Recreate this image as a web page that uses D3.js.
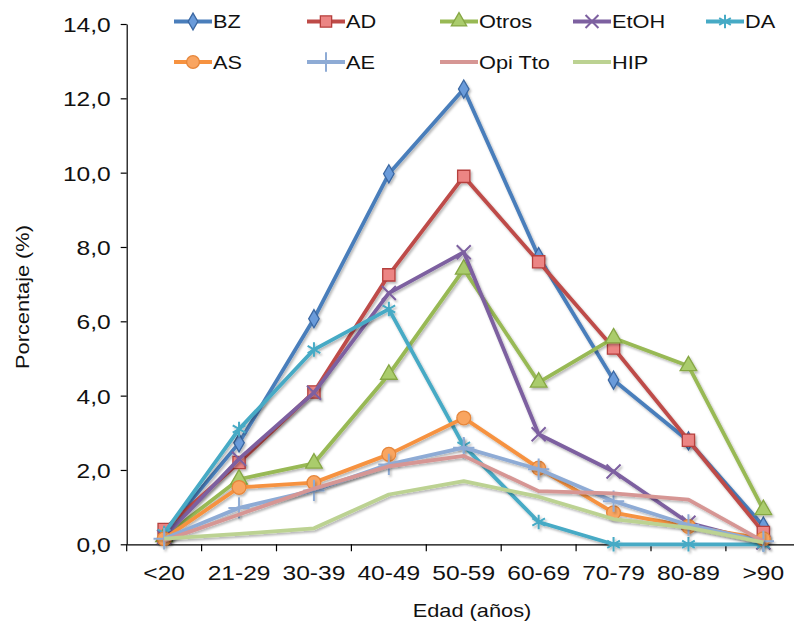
<!DOCTYPE html>
<html><head><meta charset="utf-8">
<script src="https://cdn.jsdelivr.net/npm/d3@7"></script>
<style>body{margin:0;background:#fff}svg{display:block}text{font-family:"Liberation Sans",Arial,sans-serif;fill:#111}</style>
</head><body><svg id="c" width="794" height="627"></svg>
<script>
const categories = ["<20","21-29","30-39","40-49","50-59","60-69","70-79","80-89",">90"];
const BZ    = [0.30, 2.73, 6.07, 9.97, 12.25, 7.74, 4.42, 2.78, 0.49];
const AD    = [0.40, 2.20, 4.10, 7.25, 9.90, 7.60, 5.28, 2.80, 0.32];
const Otros = [0.20, 1.75, 2.18, 4.57, 7.40, 4.36, 5.55, 4.80, 0.93];
const EtOH  = [0.20, 2.30, 4.08, 6.76, 7.86, 2.96, 1.96, 0.58, 0.05];
const DA    = [0.30, 3.10, 5.24, 6.33, 2.65, 0.60, 0.00, 0.00, 0.00];
const AS    = [0.15, 1.53, 1.66, 2.42, 3.40, 2.05, 0.85, 0.48, 0.15];
const AE    = [0.15, 0.98, 1.45, 2.15, 2.60, 2.02, 1.16, 0.52, 0.08];
const OpiTto= [0.10, 0.80, 1.50, 2.10, 2.38, 1.43, 1.37, 1.20, 0.08];
const HIP   = [0.15, 0.28, 0.43, 1.34, 1.70, 1.28, 0.68, 0.45, 0.05];
const seriesNames = ["BZ","AD","Otros","EtOH","DA","AS","AE","Opi Tto","HIP"];
const yTicks = [0,2,4,6,8,10,12,14];
const xTitle = "Edad (años)";
const yTitle = "Porcentaje (%)";

const seriesData = [BZ,AD,Otros,EtOH,DA,AS,AE,OpiTto,HIP];
const styles = [
  {line:"#4A7EBB", sym:d3.symbolDiamond, size:95, fill:"#6A9BDA", stroke:"#3A67A2"},
  {line:"#BE4B48", sym:d3.symbolSquare, size:150, fill:"#EC8584", stroke:"#B53F3C"},
  {line:"#98B954", sym:d3.symbolTriangle, size:120, fill:"#AACC6C", stroke:"#86A744"},
  {line:"#7D60A0", sym:d3.symbolX, size:130, fill:"none", stroke:"#7D60A0", strokeOnly:true},
  {line:"#46AAC5", sym:d3.symbolAsterisk, size:150, fill:"none", stroke:"#46AAC5", strokeOnly:true},
  {line:"#F69240", sym:d3.symbolCircle, size:150, fill:"#F9A561", stroke:"#E6863A"},
  {line:"#8EABD5", sym:d3.symbolPlus, size:150, fill:"none", stroke:"#8EABD5", strokeOnly:true},
  {line:"#D69694", sym:null},
  {line:"#BCD292", sym:null}
];

const svg = d3.select("#c");
const defs = svg.append("defs");
const f = defs.append("filter").attr("id","sh").attr("x","-20%").attr("y","-20%").attr("width","140%").attr("height","140%");
f.append("feDropShadow").attr("dx",1.5).attr("dy",2).attr("stdDeviation",1.2).attr("flood-color","#000").attr("flood-opacity",0.28);

const STRETCH = 1.17;
function stretch(sel){
  sel.each(function(){
    const len = this.getComputedTextLength();
    d3.select(this).attr("textLength", len*STRETCH).attr("lengthAdjust","spacingAndGlyphs");
  });
}
const fmt = v => d3.format(".1f")(v).replace(".", ",");

const x = d3.scaleBand().domain(categories).range([126.7, 800.8]);
const y = d3.scaleLinear().domain([0,14]).range([544.3, 24]);

// Y axis
const gy = svg.append("g").attr("transform","translate(126.7,0)")
  .call(d3.axisLeft(y).tickValues(yTicks).tickSize(6).tickSizeOuter(0).tickPadding(10).tickFormat(fmt));
gy.select(".domain").attr("stroke","#000").attr("stroke-width",1.2);
gy.selectAll(".tick line").attr("stroke","#000").attr("stroke-width",1.2);
gy.selectAll(".tick text").attr("font-size",21).attr("font-family","Liberation Sans").attr("fill","#111").attr("dy","0.36em").call(stretch);

// X axis
const gx = svg.append("g").attr("transform","translate(0,544.3)")
  .call(d3.axisBottom(x).tickSize(0).tickSizeOuter(0).tickPadding(21));
gx.select(".domain").attr("stroke","#000").attr("stroke-width",1.2);
gx.selectAll(".tick text").attr("font-size",21).attr("font-family","Liberation Sans").attr("fill","#111").call(stretch);
gx.selectAll(".bt").data(categories).enter().append("line")
  .attr("x1",d=>x(d)).attr("x2",d=>x(d)).attr("y1",0).attr("y2",7)
  .attr("stroke","#000").attr("stroke-width",1.2);

// Titles
svg.append("text").attr("x",472).attr("y",617).attr("text-anchor","middle").attr("font-size",18.6).text(xTitle).call(stretch);
svg.append("text").attr("transform","translate(29,297) rotate(-90)").attr("text-anchor","middle").attr("font-size",18.6).text(yTitle).call(stretch);

// Series
const line = d3.line().x((d,i)=>x(categories[i])+x.bandwidth()/2).y(d=>y(d));
function drawMarker(g, st, cx, cy, scale){
  if(!st.sym) return;
  g.append("path").attr("d", d3.symbol(st.sym, st.size*(scale||1))())
    .attr("transform",`translate(${cx},${cy})`)
    .attr("fill", st.strokeOnly ? "none" : st.fill)
    .attr("stroke", st.stroke)
    .attr("stroke-width", st.strokeOnly ? 2 : 1.3);
}
seriesData.forEach((vals, si) => {
  const st = styles[si];
  const g = svg.append("g").attr("filter","url(#sh)");
  g.append("path").datum(vals).attr("d",line).attr("fill","none")
    .attr("stroke",st.line).attr("stroke-width",3.8).attr("stroke-linejoin","round");
  vals.forEach((v,i)=> drawMarker(g, st, x(categories[i])+x.bandwidth()/2, y(v)));
});

// Legend
const legX0 = 174, legDX = 133, legY = [21.5, 62];
seriesNames.forEach((name, i) => {
  const st = styles[i];
  const col = i % 5, row = Math.floor(i/5);
  const lx = legX0 + col*legDX, ly = legY[row];
  const g = svg.append("g");
  g.append("line").attr("x1",lx).attr("x2",lx+38).attr("y1",ly).attr("y2",ly)
    .attr("stroke",st.line).attr("stroke-width",3.8);
  drawMarker(g, st, lx+19, ly, 0.85);
  g.append("text").attr("x",lx+39).attr("y",ly).attr("dy","0.36em").attr("font-size",18.6).text(name).call(stretch);
});
</script></body></html>
